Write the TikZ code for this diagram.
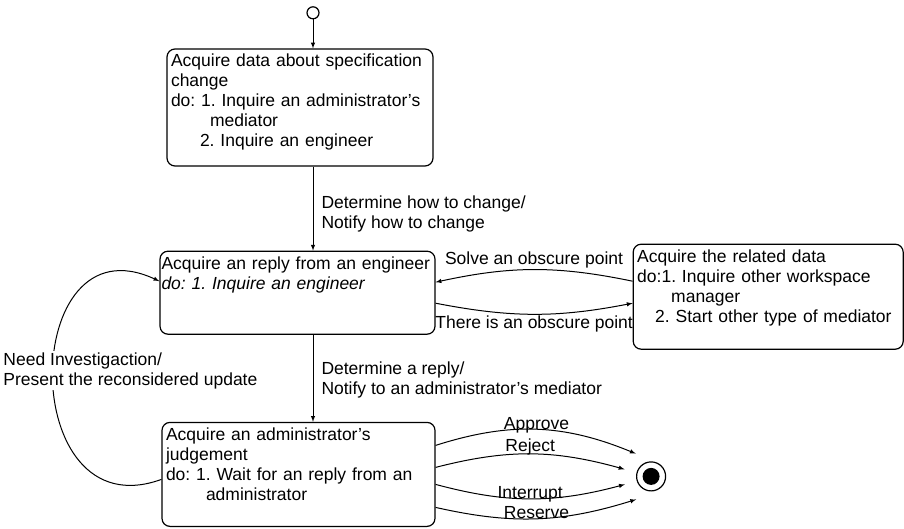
\documentclass[tikz,border=0pt]{standalone}
\usepackage{fontspec}
\setmainfont{Liberation Sans}
\usetikzlibrary{arrows,positioning,calc}
\frenchspacing
\hyphenpenalty=10000

\begin{document}
\begin{tikzpicture}[>=latex,line width=1pt,font=\fontsize{17.5}{20}\selectfont,
    act/.style={draw,rounded corners=8pt,line width=1.2pt,align=left,inner xsep=4pt,inner ysep=5pt,text height=13pt},
    trans/.style={align=left,inner sep=1pt}]
    \useasboundingbox(0,0)rectangle(904pt,-529pt);
    \node[act,text width=258pt,text depth=94pt](s0)at(300pt,-107.5pt){Acquire data about specification\\change\\do: 1. Inquire an administrator's\\\hspace*{39pt}mediator\\\hspace*{29pt}2. Inquire an engineer};
    \node[act,inner xsep=1.5pt,text width=272pt,text depth=60pt](s1)[below=84pt of s0,xshift=-2.5pt]{\mbox{Acquire an reply from an engineer}\\\textit{do: 1. Inquire an engineer}};
    \node[act,text width=262pt,text depth=82pt](s2)[right=197pt of s1,yshift=-4pt]{Acquire the related data\\do:1. Inquire other workspace\\\hspace*{34pt}manager\\\hspace*{18pt}2. Start other type of mediator};
    \node[act,text width=265pt,text depth=81pt](s3)[below=87pt of s1,xshift=1pt]{Acquire an administrator's\\judgement\\do: 1. Wait for an reply from an\\\hspace*{40pt}administrator};
    \node[circle,draw,line width=1.2pt,minimum size=12pt,inner sep=0pt](init)[above=29pt of s0,xshift=13pt]{};
    \node[circle,draw,line width=1.2pt,minimum size=29pt,inner sep=0pt,outer sep=13pt,path picture={\fill(path picture bounding box.center)circle(8.5pt);}](fin)[right=188pt of s3,yshift=-2pt]{};
    \path(init)[->]edge(init |- s0.north);
    \path(s0.south -| init)[->]edge node[trans,right,xshift=7pt,yshift=-5pt]{Determine how to change/\\Notify how to change}(s1.north -| init);
    \path(s1.south -| init)[->]edge node[trans,right,xshift=7pt,yshift=-1.5pt]{Determine a reply/\\Notify to an administrator's mediator}(s3.north -| init);
    \path([yshift=15.5pt]s2.west)[->]edge[bend right=12]node[trans,above]{Solve an obscure point}([yshift=10.5pt]s1.east);
    \path([yshift=-10.5pt]s1.east)[->]edge[bend right=11]node[trans,below]{There is an obscure point}([yshift=-6.5pt]s2.west);
    \path([yshift=-5pt]s3.west)[->]edge[out=200,in=155,looseness=2]node[trans,fill=white,anchor=west,xshift=-51pt,yshift=5pt]{Need Investigaction/\\Present the reconsidered update}([yshift=11.5pt]s1.west);
    \path([yshift=29pt]s3.east)[->]edge[bend left=20]node[trans,anchor=base]{Approve}(fin.124);
    \path([yshift=7pt]s3.east)[->]edge[bend left=15]node[trans,anchor=base,yshift=2pt]{Reject}(fin.165);
    \path([yshift=-10pt]s3.east)[->]edge[bend right=15]node[trans,anchor=base]{Interrupt}(fin.197);
    \path([yshift=-33pt]s3.east)[->]edge[bend right=15]node[trans,anchor=base]{Reserve}(fin.237);
\end{tikzpicture}
\end{document}
